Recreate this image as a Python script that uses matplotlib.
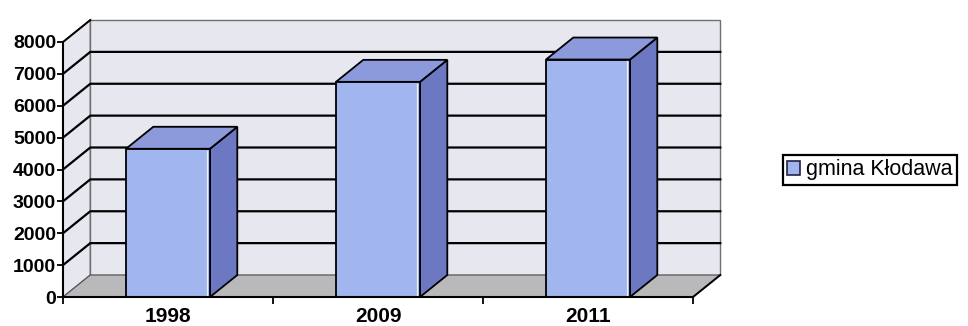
import matplotlib.pyplot as plt
from matplotlib.patches import Polygon, Rectangle, Patch

plt.rcParams['font.family'] = ['Liberation Sans', 'DejaVu Sans']

# liczba mieszkancow gminy
years = ['1998', '2009', '2011']
residents = [4650, 6750, 7450]
y_ticks = [0, 1000, 2000, 3000, 4000, 5000, 6000, 7000, 8000]
series_name = 'gmina Kłodawa'

#colours
wall = '#e7e7ef'
floor = '#b9b9bb'
front = '#a1b5ee'
top = '#8c99da'
side = '#6d78c2'

W, H = 968, 326
fig = plt.figure(figsize=(W/100, H/100), dpi=100)
ax = fig.add_axes([63/W, 29/H, 630/W, 255/H])
ax.set_xlim(0, 3)
ax.set_ylim(0, y_ticks[-1])
ax.patch.set_visible(False)

#depth of the 3d box (in data units)
dx, dy = 0.13, 690
ymax = y_ticks[-1]
n = len(years)

#side wall, back wall, floor
ax.add_patch(Polygon([(0, 0), (0, ymax), (dx, ymax+dy), (dx, dy)], closed=True,
                     fc=wall, ec='#707070', lw=1.0, clip_on=False, zorder=1))
ax.add_patch(Polygon([(dx, dy), (dx, ymax+dy), (n+dx, ymax+dy), (n+dx, dy)], closed=True,
                     fc=wall, ec='#707070', lw=1.0, clip_on=False, zorder=1))
ax.add_patch(Polygon([(0, 0), (n, 0), (n+dx, dy), (dx, dy)], closed=True,
                     fc=floor, ec='#505050', lw=0.8, clip_on=False, zorder=1))

#gridlines on side + back wall
for v in y_ticks[1:-1]:
    ax.plot([0, dx, n+dx], [v, v+dy, v+dy], color='black', lw=1.6,
            clip_on=False, zorder=2)
ax.plot([0, dx], [ymax, ymax+dy], color='black', lw=1.4, clip_on=False, zorder=2)
ax.plot([n, n+dx], [0, dy], color='black', lw=1.4, clip_on=False, zorder=2)

#bars
bw = 0.4
for i, v in enumerate(residents):
    x0 = i + 0.5 - bw/2
    x1 = x0 + bw
    ax.add_patch(Polygon([(x1, 0), (x1+dx, dy), (x1+dx, v+dy), (x1, v)], closed=True,
                         fc=side, ec='black', lw=1.3, clip_on=False, zorder=3))
    ax.add_patch(Polygon([(x0, v), (x1, v), (x1+dx, v+dy), (x0+dx, v+dy)], closed=True,
                         fc=top, ec='black', lw=1.3, clip_on=False, zorder=3))
    ax.add_patch(Rectangle((x0, 0), bw, v, fc=front, ec='black', lw=1.3,
                           clip_on=False, zorder=4))
    ax.plot([x1-0.012, x1-0.012], [60, v-60], color='white', lw=0.9, alpha=0.8, zorder=5)

#axes
for s in ['top', 'right']:
    ax.spines[s].set_visible(False)
for s in ['left', 'bottom']:
    ax.spines[s].set_linewidth(1.5)
    ax.spines[s].set_zorder(6)

ax.set_yticks(y_ticks)
ax.set_yticklabels([str(v) for v in y_ticks], fontsize=14, fontweight='bold')
ax.tick_params(axis='y', direction='out', length=4, width=1.3, pad=1)

ax.set_xticks(range(n+1))
ax.set_xticklabels([])
ax.set_xticks([i + 0.5 for i in range(n)], minor=True)
ax.set_xticklabels(years, minor=True, fontsize=15, fontweight='bold')
ax.tick_params(axis='x', which='major', direction='out', length=5, width=1.3)
ax.tick_params(axis='x', which='minor', length=0, pad=7)

leg = fig.legend(handles=[Patch(fc=front, ec='#222244', lw=1.2)], labels=[series_name],
                 loc='center', bbox_to_anchor=(870/W, 1-170/H), frameon=True,
                 fancybox=False, edgecolor='black', framealpha=1,
                 prop={'size': 15.5}, handlelength=0.6,
                 handleheight=0.6, handletextpad=0.3, borderpad=0.2,
                 borderaxespad=0)
leg.get_frame().set_linewidth(1.6)

fig.savefig('out.png', dpi=100)
